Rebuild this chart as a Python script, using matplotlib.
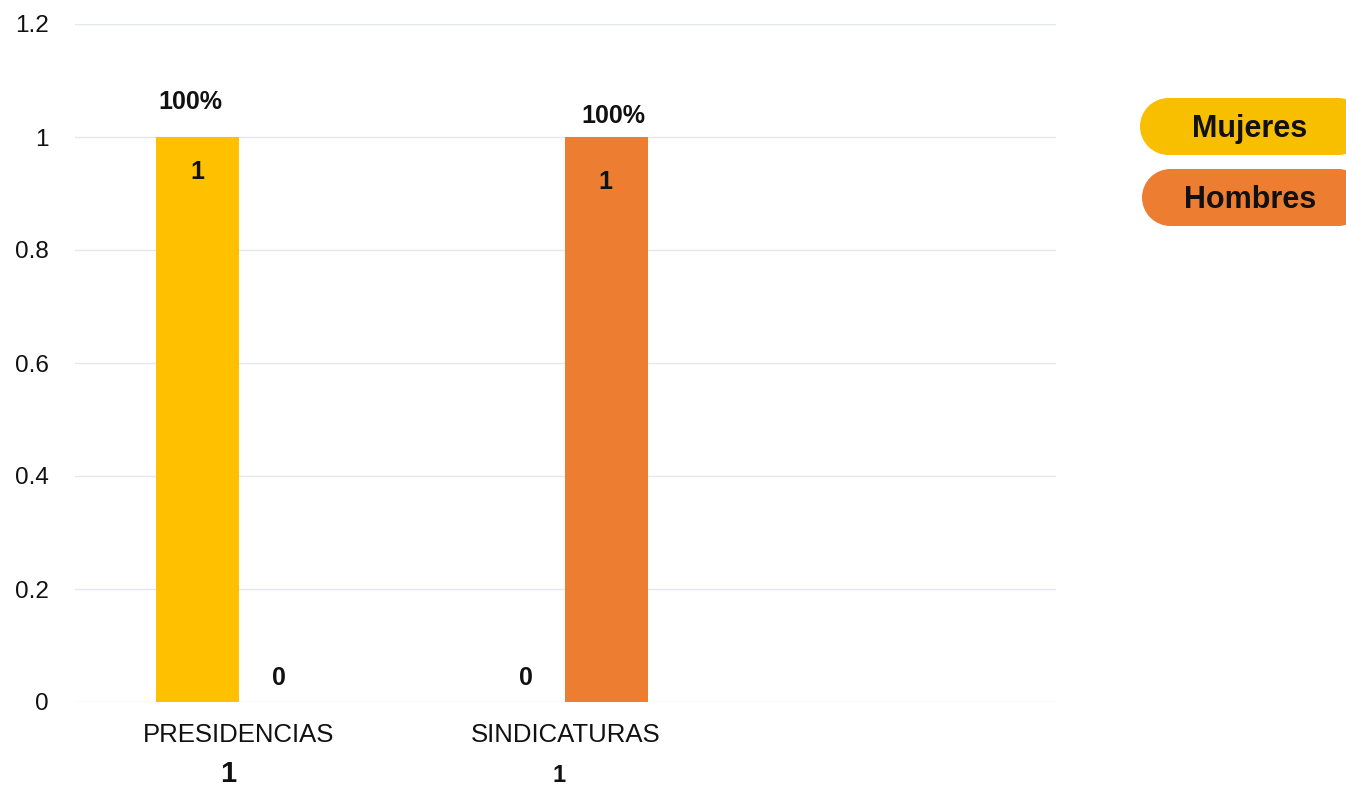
import matplotlib
matplotlib.use("Agg")
import matplotlib.pyplot as plt
from matplotlib.patches import Circle, Rectangle
from matplotlib.transforms import IdentityTransform

plt.rcParams['font.family'] = ['Liberation Sans', 'DejaVu Sans']

categories = ["PRESIDENCIAS", "SINDICATURAS", ""]
mujeres = [1, 0, None]
hombres = [0, 1, None]
totals = ["1", "1"]
pct_labels = ["100%", "100%"]
series_names = ["Mujeres", "Hombres"]
yticks = [0, 0.2, 0.4, 0.6, 0.8, 1, 1.2]
ytick_labels = ["0", "0.2", "0.4", "0.6", "0.8", "1", "1.2"]

c_muj = "#FFC000"
c_hom = "#ED7D31"

W, H = 1346, 787
fig = plt.figure(figsize=(W/100, H/100), dpi=100)
ax = fig.add_axes([75/W, 85/H, (1056-75)/W, (702-24)/H])

bw = 0.254
off = 0.125
xs = list(range(len(categories)))
for i, (m, h) in enumerate(zip(mujeres, hombres)):
    if m is not None:
        ax.bar(i - off, m, width=bw, color=c_muj, zorder=3)
    if h is not None:
        ax.bar(i + off, h, width=bw, color=c_hom, zorder=3)

ax.set_xlim(-0.5, 2.5)
ax.set_ylim(0, 1.2)
ax.set_yticks(yticks)
ax.set_yticklabels(ytick_labels, fontsize=17.5, color="#111111")
ax.set_xticks(xs)
ax.set_xticklabels(categories, fontsize=18.5, color="#111111")
ax.tick_params(axis='y', length=0, pad=19)
ax.tick_params(axis='x', length=0, pad=15)
ax.grid(axis='y', color="#e3e7f0", linewidth=1, zorder=0)
for s in ax.spines.values():
    s.set_visible(False)

bold = dict(fontsize=18, fontweight='bold', color="#111111", ha='center', va='center')
ax.annotate(pct_labels[0], (0 - off, mujeres[0]), xytext=(-7, 35), textcoords='offset pixels', **bold)
ax.annotate(str(mujeres[0]), (0 - off, mujeres[0]), xytext=(0, -35), textcoords='offset pixels', **bold)
ax.annotate(str(hombres[0]), (0 + off, hombres[0]), xytext=(0, 24), textcoords='offset pixels', **bold)
ax.annotate(pct_labels[1], (1 + off, hombres[1]), xytext=(7, 21), textcoords='offset pixels', **bold)
ax.annotate(str(hombres[1]), (1 + off, hombres[1]), xytext=(-1, -45), textcoords='offset pixels', **bold)
ax.annotate(str(mujeres[1]), (1 - off, mujeres[1]), xytext=(1, 24), textcoords='offset pixels', **bold)

fig.text(228/W, 1 - 774/H, totals[0], fontsize=21, fontweight='bold', color="#111111", ha='center', va='center')
fig.text(559/W, 1 - 776/H, totals[1], fontsize=17, fontweight='bold', color="#111111", ha='center', va='center')

hgt = 57
r = hgt / 2
right_c = 1338
for name, col, y0, x0 in [(series_names[0], "#F8BF00", 98, 1140), (series_names[1], c_hom, 169, 1142)]:
    cy = H - (y0 + r)
    fig.patches.append(Circle((x0 + r, cy), r, transform=IdentityTransform(),
                              facecolor=col, edgecolor='none'))
    fig.patches.append(Circle((right_c, cy), r, transform=IdentityTransform(),
                              facecolor=col, edgecolor='none'))
    fig.patches.append(Rectangle((x0 + r, cy - r), right_c - (x0 + r), hgt, transform=IdentityTransform(),
                                 facecolor=col, edgecolor='none'))
    fig.text(1250/W, 1 - (y0 + r + 2)/H, name, fontsize=22, fontweight='bold',
             color="#111111", ha='center', va='center')

fig.savefig("out.png", dpi=100)
